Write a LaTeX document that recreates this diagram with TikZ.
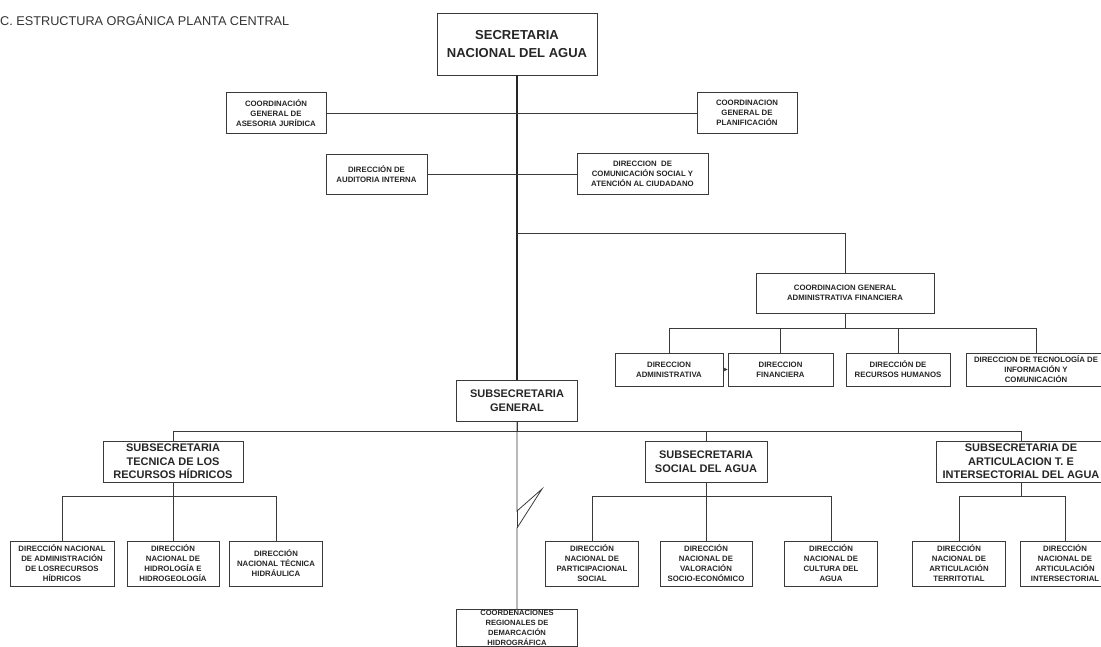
\documentclass[tikz,border=0pt]{standalone}
\usepackage{fontspec}
\setmainfont{Liberation Sans}
\usetikzlibrary{arrows.meta}

\definecolor{inkgray}{HTML}{3A3A3A}
\newcommand{\headfont}{\fontsize{13}{18}\selectfont\bfseries}
\newcommand{\subfont}{\fontsize{11}{13.5}\selectfont\bfseries}
\newcommand{\unitfont}{\fontsize{7.8}{10}\selectfont\bfseries}

\begin{document}
\begin{tikzpicture}[x=1pt, y=-1pt, >=Stealth,
    box/.style = {draw=inkgray, line width=0.9pt, fill=white, align=center, inner sep=0pt, text=black!85},
    unit/.style = {box, font=\unitfont},
    sub/.style = {box, font=\subfont, minimum height=41pt},
    low/.style = {unit, minimum height=45pt},
    link/.style = {draw=inkgray, line width=0.8pt},
    trunk/.style = {draw=black!85, line width=1.4pt}]

    \useasboundingbox (0,0) rectangle (1101,646);
    \clip (0,0) rectangle (1101,646);

    \node[anchor=west, inner sep=0pt, text=black!80, font=\fontsize{12.7}{15}\selectfont] (title) at (0,20) {C. ESTRUCTURA ORGÁNICA PLANTA CENTRAL};

    % nivel directivo
    \node[box, font=\headfont, minimum width=160pt, minimum height=62pt] (sna) at (517,44) {SECRETARIA\\NACIONAL DEL AGUA};
    \node[unit, minimum width=100pt, minimum height=41pt] (cgaj) at (276,113) {COORDINACIÓN\\GENERAL DE\\ASESORIA JURÍDICA};
    \node[unit, minimum width=100pt, minimum height=41pt] (cgp) at (747,113) {COORDINACION\\GENERAL DE\\PLANIFICACIÓN};
    \node[unit, minimum width=101pt, minimum height=40pt] (dai) at (376.5,174) {DIRECCIÓN DE\\AUDITORIA INTERNA};
    \node[unit, minimum width=131pt, minimum height=41pt] (dcs) at (642.5,174) {DIRECCION~ DE\\COMUNICACIÓN SOCIAL Y\\ATENCIÓN AL CIUDADANO};

    % apoyo administrativo
    \node[unit, minimum width=178pt, minimum height=40pt] (cgaf) at (845,293) {COORDINACION GENERAL\\ADMINISTRATIVA FINANCIERA};
    \node[unit, minimum width=108pt, minimum height=33pt] (dadm) at (669,369.5) {DIRECCION\\ADMINISTRATIVA};
    \node[unit, minimum width=105pt, minimum height=33pt] (dfin) at (780.5,369.5) {DIRECCION\\FINANCIERA};
    \node[unit, minimum width=104pt, minimum height=33pt] (drh) at (898,369.5) {DIRECCIÓN DE\\RECURSOS HUMANOS};
    \node[unit, minimum width=140pt, minimum height=33pt] (dtic) at (1036,369.5) {DIRECCION DE TECNOLOGÍA DE\\INFORMACIÓN Y\\COMUNICACIÓN};

    % subsecretarias
    \node[sub, minimum width=121pt] (ssg) at (517,400.5) {SUBSECRETARIA\\GENERAL};
    \node[sub, minimum width=140pt] (sstr) at (173,461.5) {SUBSECRETARIA\\TECNICA DE LOS\\RECURSOS HÍDRICOS};
    \node[sub, minimum width=122pt] (sssa) at (706,461.5) {SUBSECRETARIA\\SOCIAL DEL AGUA};
    \node[sub, minimum width=170pt] (ssa) at (1021,461.5) {SUBSECRETARIA DE\\ARTICULACION T. E\\INTERSECTORIAL DEL AGUA};

    % direcciones nacionales
    \node[low, minimum width=104pt] (dnarh) at (62,563.5) {DIRECCIÓN NACIONAL\\DE ADMINISTRACIÓN\\DE LOSRECURSOS\\HÍDRICOS};
    \node[low, minimum width=92pt] (dnhh) at (173,563.5) {DIRECCIÓN\\NACIONAL DE\\HIDROLOGÍA E\\HIDROGEOLOGÍA};
    \node[low, minimum width=93pt] (dnth) at (276,563.5) {DIRECCIÓN\\NACIONAL TÉCNICA\\HIDRÁULICA};
    \node[low, minimum width=93pt] (dnps) at (592,563.5) {DIRECCIÓN\\NACIONAL DE\\PARTICIPACIONAL\\SOCIAL};
    \node[low, minimum width=92pt] (dnvs) at (706,563.5) {DIRECCIÓN\\NACIONAL DE\\VALORACIÓN\\SOCIO-ECONÓMICO};
    \node[low, minimum width=93pt] (dnca) at (831,563.5) {DIRECCIÓN\\NACIONAL DE\\CULTURA DEL\\AGUA};
    \node[low, minimum width=93pt] (dnat) at (959,563.5) {DIRECCIÓN\\NACIONAL DE\\ARTICULACIÓN\\TERRITOTIAL};
    \node[low, minimum width=90pt] (dnai) at (1065,563.5) {DIRECCIÓN\\NACIONAL DE\\ARTICULACIÓN\\INTERSECTORIAL};

    \node[box, anchor=north, font=\fontsize{7.6}{10}\selectfont\bfseries, inner ysep=1pt, minimum width=121pt] (crdh) at (517,609) {COORDENACIONES\\REGIONALES DE\\DEMARCACIÓN\\HIDROGRÁFICA};

    % conectores
    \draw[trunk] (sna.south) -- (ssg.north);
    \draw[link] (cgaj.east) -- (cgp.west);
    \draw[link] (dai.east) -- (dcs.west);

    \coordinate (afork) at (517,233);
    \draw[link] (afork) -| (cgaf.north);
    \coordinate (abus) at (845,328);
    \draw[link] (cgaf.south) -- (abus);
    \draw[link] (dadm.north |- abus) -- (dtic.north |- abus);
    \foreach \n in {dadm,dfin,drh,dtic}
        \draw[link] (\n.north) -- (\n.north |- abus);
    \draw[link, -{Stealth[length=4pt, width=4pt]}] (dadm.east) -- (dfin.west);

    \coordinate (sbus) at (517,431);
    \draw[link] (ssg.south) -- (sbus);
    \draw[link] (sstr.north |- sbus) -- (ssa.north |- sbus);
    \foreach \n in {sstr,sssa,ssa}
        \draw[link] (\n.north) -- (\n.north |- sbus);

    \coordinate (tbus) at (173,496);
    \draw[link] (sstr.south) -- (tbus);
    \draw[link] (dnarh.north |- tbus) -- (dnth.north |- tbus);
    \foreach \n in {dnarh,dnhh,dnth}
        \draw[link] (\n.north) -- (\n.north |- tbus);

    \coordinate (cbus) at (706,496);
    \draw[link] (sssa.south) -- (cbus);
    \draw[link] (dnps.north |- cbus) -- (dnca.north |- cbus);
    \foreach \n in {dnps,dnvs,dnca}
        \draw[link] (\n.north) -- (\n.north |- cbus);

    \coordinate (ibus) at (1021,496);
    \draw[link] (ssa.south) -- (ibus);
    \draw[link] (dnat.north |- ibus) -- (dnai.north |- ibus);
    \foreach \n in {dnat,dnai}
        \draw[link] (\n.north) -- (\n.north |- ibus);

    % corte
    \coordinate (zA) at (517,511);
    \coordinate (zT) at (542,489);
    \coordinate (zB) at (517,528);
    \draw[link] (ssg.south) -- (zA) -- (zT) -- (zB) -- (crdh.north);
    \draw[link] (zA) -- (zB);

\end{tikzpicture}
\end{document}
